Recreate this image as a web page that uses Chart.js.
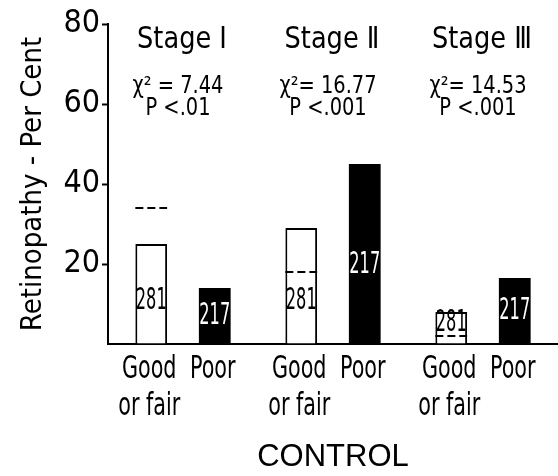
<!DOCTYPE html>
<html>
<head>
<meta charset="utf-8">
<script src="https://cdn.jsdelivr.net/npm/chart.js@4"></script>
<style>
html,body{margin:0;padding:0;background:#fff;}
canvas{display:block;}
</style>
</head>
<body>
<canvas id="c" width="558" height="476"></canvas>
<script>
// ---- data ----
const stages = ['Stage \u2160', 'Stage \u2161', 'Stage \u2162'];
const chiLabels = ['\u03c7\u00b2 = 7.44', '\u03c7\u00b2= 16.77', '\u03c7\u00b2= 14.53'];
const pLabels = ['P <.01', 'P <.001', 'P <.001'];
const goodFair = [25, 29, 8];          // control: good or fair, per cent
const poor = [14, 45, 16.5];           // control: poor, per cent
const expectedGoodFair = [34, 18, 2];  // dashed reference lines
const nGoodFair = ['281', '281', '281'];
const nPoor = ['217', '217', '217'];
const groupLabels = [['Good', 'or fair'], ['Poor']];
const yTitle = 'Retinopathy - Per Cent';
const xTitle = 'CONTROL';

const FONT = '"DejaVu Sans Condensed", "DejaVu Sans", sans-serif';
Chart.defaults.font.family = FONT;
Chart.defaults.color = '#000';

function drawText(ctx, text, x, y, size, sx) {
  ctx.save();
  ctx.translate(x, y);
  ctx.scale(sx, 1);
  ctx.font = size + 'px ' + FONT;
  ctx.fillText(text, 0, 0);
  ctx.restore();
}

const annot = {
  id: 'annot',
  afterDatasetsDraw(chart) {
    const ctx = chart.ctx;
    const ys = chart.scales.y;
    const xs = chart.scales.x;
    const area = chart.chartArea;
    const mGood = chart.getDatasetMeta(0);
    const mPoor = chart.getDatasetMeta(1);
    ctx.save();
    // dashed expected lines
    ctx.strokeStyle = '#000';
    ctx.lineWidth = 2;
    ctx.setLineDash([8, 4]);
    mGood.data.forEach((el, i) => {
      const y = ys.getPixelForValue(expectedGoodFair[i]);
      ctx.beginPath();
      ctx.moveTo(el.x - el.width / 2, y);
      ctx.lineTo(el.x + el.width / 2, y);
      ctx.stroke();
    });
    ctx.setLineDash([]);
    // counts inside bars
    ctx.textAlign = 'center';
    ctx.textBaseline = 'middle';
    mGood.data.forEach((el, i) => {
      const v = Math.min(10.75, goodFair[i] * 0.65);
      ctx.fillStyle = '#000';
      drawText(ctx, nGoodFair[i], el.x, ys.getPixelForValue(v), 30, 0.6);
    });
    mPoor.data.forEach((el, i) => {
      const v = Math.min(19.75, poor[i] * 0.5);
      ctx.fillStyle = '#fff';
      drawText(ctx, nPoor[i], el.x, ys.getPixelForValue(v), 30, 0.6);
    });
    // category labels under bars
    ctx.fillStyle = '#000';
    ctx.textBaseline = 'alphabetic';
    [mGood, mPoor].forEach((m, d) => {
      m.data.forEach((el) => {
        groupLabels[d].forEach((t, k) => {
          drawText(ctx, t, el.x - 2, area.bottom + 34 + k * 37, 32, 0.72);
        });
      });
    });
    // stage headers
    stages.forEach((s, i) => {
      const cx = xs.getPixelForValue(i) - 1;
      drawText(ctx, s, cx, area.top + 24, 31, 0.92);
      drawText(ctx, chiLabels[i], cx - 4, area.top + 69, 24, 0.9);
      drawText(ctx, pLabels[i], cx - 4, area.top + 91, 24, 0.9);
    });
    ctx.restore();
  }
};

new Chart(document.getElementById('c'), {
  type: 'bar',
  data: {
    labels: stages,
    datasets: [
      {
        label: 'Good or fair',
        data: goodFair,
        backgroundColor: '#fff',
        borderColor: '#000',
        borderWidth: 2,
        borderSkipped: 'start'
      },
      {
        label: 'Poor',
        data: poor,
        backgroundColor: '#000',
        borderColor: '#000',
        borderWidth: 0
      }
    ]
  },
  options: {
    responsive: false,
    animation: false,
    events: [],
    categoryPercentage: 0.847,
    barPercentage: 0.5,
    layout: { padding: { top: 24, right: 0, bottom: 0, left: 0 } },
    plugins: {
      legend: { display: false },
      tooltip: { enabled: false },
      title: { display: false }
    },
    scales: {
      x: {
        grid: { display: false },
        border: { display: true, color: '#000', width: 2 },
        ticks: { display: false },
        title: {
          display: true,
          text: xTitle,
          font: { size: 31, family: '"Liberation Sans", sans-serif' },
          padding: { top: 0, bottom: 0 }
        },
        afterFit(scale) { scale.height = 132; }
      },
      y: {
        min: 0,
        max: 80,
        ticks: {
          stepSize: 20,
          padding: 2,
          font: { size: 32 },
          color: '#000',
          callback: (v) => (v === 0 ? '' : v)
        },
        grid: {
          display: true,
          drawOnChartArea: false,
          drawTicks: true,
          tickLength: 6,
          tickWidth: 2,
          tickColor: (c) => (c.tick && c.tick.value === 0 ? 'rgba(0,0,0,0)' : '#000')
        },
        border: { display: true, color: '#000', width: 2 },
        title: {
          display: true,
          text: yTitle,
          font: { size: 29 },
          padding: { top: 16, bottom: 0 }
        },
        afterFit(scale) { scale.width = 108; }
      }
    }
  },
  plugins: [annot]
});
</script>
</body>
</html>
